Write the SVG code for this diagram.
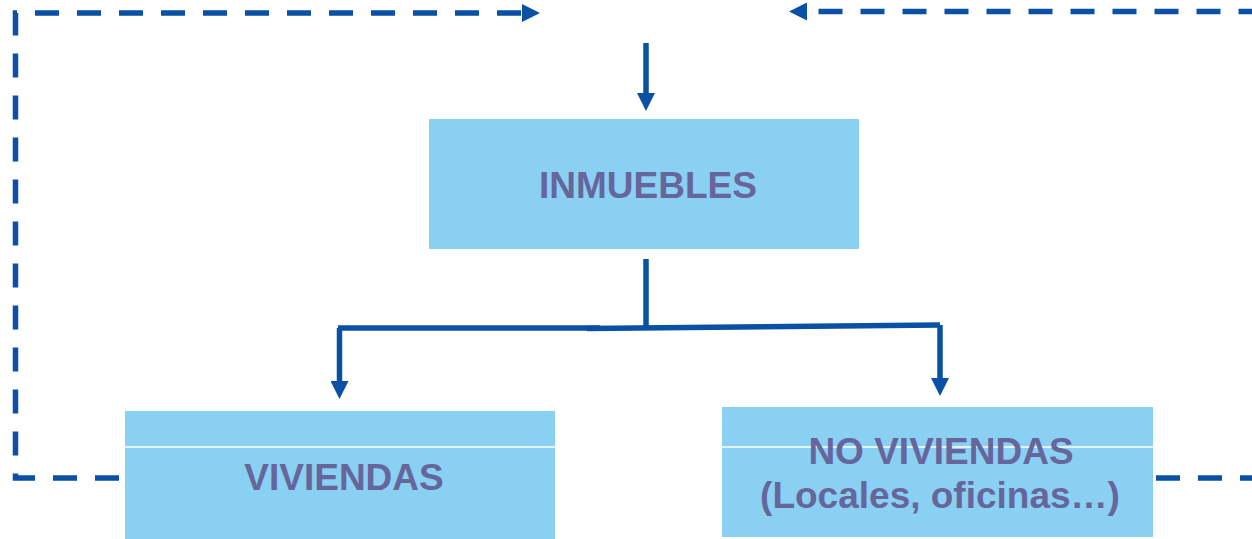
<svg xmlns="http://www.w3.org/2000/svg" width="1252" height="539" viewBox="0 0 1252 539">
<style>
.box{fill:#89D0F2}
.sep{stroke:#FFFFFF;stroke-width:1.5}
.lbl{font-family:"Liberation Sans",Arial,sans-serif;font-weight:bold;font-size:37px;fill:#66669C;text-anchor:middle}
.ln{fill:none;stroke:#0A50A5;stroke-width:5.5}
.dash{stroke-dasharray:24 18}
</style>
<defs>
<marker id="ah" markerUnits="userSpaceOnUse" markerWidth="18" markerHeight="18" viewBox="0 0 18 18" refX="0" refY="9" orient="auto">
<path d="M0,0 L18,9 L0,18 Z" fill="#0A50A5"/>
</marker>
</defs>
<g id="inmuebles">
<rect class="box" x="429" y="119" width="430" height="130"/>
<text class="lbl" x="648" y="198">INMUEBLES</text>
</g>
<g id="viviendas">
<rect class="box" x="125" y="411" width="430" height="129"/>
<line class="sep" x1="125" y1="447" x2="555" y2="447"/>
<text class="lbl" x="344" y="490">VIVIENDAS</text>
</g>
<g id="no-viviendas">
<rect class="box" x="722" y="407" width="431" height="130"/>
<line class="sep" x1="722" y1="447" x2="1153" y2="447"/>
<text class="lbl" x="941" y="464">NO VIVIENDAS</text>
<text class="lbl" x="940" y="508">(Locales, oficinas…)</text>
</g>
<g id="connectors">
<path class="ln" d="M646,43 V93" marker-end="url(#ah)"/>
<path class="ln" d="M646,259 V328"/>
<path class="ln" d="M338,328 H600"/>
<path class="ln" d="M587,328.5 L940,325"/>
<path class="ln" d="M339.5,328 V381" marker-end="url(#ah)"/>
<path class="ln" d="M940,325 V378" marker-end="url(#ah)"/>
<path class="ln dash" d="M119,478 H15.5 V13 H522" marker-end="url(#ah)"/>
<path class="ln dash" d="M1156,478 H1270 V11.5 H807" marker-end="url(#ah)"/>
</g>
</svg>
